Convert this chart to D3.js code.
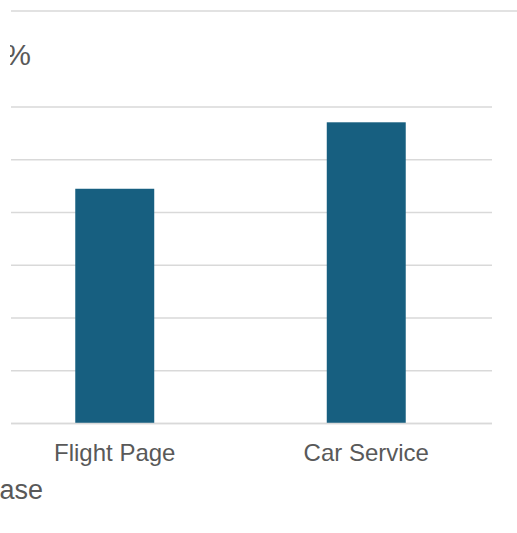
<!DOCTYPE html>
<html>
<head>
<meta charset="utf-8">
<script src="https://cdn.jsdelivr.net/npm/d3@7/dist/d3.min.js"></script>
<style>
  html, body { margin: 0; padding: 0; background: #fff; overflow: hidden; }
  text { font-family: "Liberation Sans", Arial, sans-serif; fill: #595959; }
</style>
</head>
<body>
<div id="chart"></div>
<script>
// data
var categories = ['Flight Page', 'Car Service'];
var values = [44.5, 57.1];
var yTicks = [0, 10, 20, 30, 40, 50, 60];
var yTitle = 'Conversion Rate %';
var xTitle = 'Purchase';

var width = 517, height = 533;
var margin = {top: 107, bottom: 423.5, left: -11, right: 492};

var svg = d3.select('#chart').append('svg')
    .attr('width', width)
    .attr('height', height);

// the panel is cut at x=10 on the left
svg.append('defs').append('clipPath')
    .attr('id', 'panel-clip')
  .append('rect')
    .attr('x', 10).attr('y', 0)
    .attr('width', width).attr('height', height);

var xScale = d3.scaleBand()
    .domain(categories)
    .range([margin.left, margin.right])
    .paddingInner(0.686)
    .paddingOuter(0.343);

var yScale = d3.scaleLinear()
    .domain([0, 60])
    .range([margin.bottom, margin.top]);

// top border line
svg.append('line')
    .attr('x1', 11).attr('x2', width)
    .attr('y1', 11).attr('y2', 11)
    .style('stroke', '#d9d9d9')
    .style('stroke-width', 1.5);

// gridlines
svg.append('g').selectAll('line')
    .data(yTicks)
    .enter().append('line')
    .attr('x1', 11)
    .attr('x2', margin.right)
    .attr('y1', function(d) { return yScale(d); })
    .attr('y2', function(d) { return yScale(d); })
    .style('stroke', '#d9d9d9')
    .style('stroke-width', 1.4);

// bars
svg.append('g').selectAll('rect')
    .data(values)
    .enter().append('rect')
    .attr('x', function(d, i) { return xScale(categories[i]); })
    .attr('y', function(d) { return yScale(d); })
    .attr('width', xScale.bandwidth())
    .attr('height', function(d) { return yScale(0) - yScale(d); })
    .style('fill', '#175f80');

// baseline drawn on top of bars
svg.append('line')
    .attr('x1', 11).attr('x2', margin.right)
    .attr('y1', yScale(0)).attr('y2', yScale(0))
    .style('stroke', '#d9d9d9')
    .style('stroke-width', 1.4);

// category labels
svg.append('g').selectAll('text')
    .data(categories)
    .enter().append('text')
    .attr('x', function(d) { return xScale(d) + xScale.bandwidth() / 2; })
    .attr('y', 460.5)
    .attr('text-anchor', 'middle')
    .style('font-size', '24px')
    .text(function(d) { return d; });

// titles, partly cut off at the left edge
svg.append('g')
    .attr('clip-path', 'url(#panel-clip)')
  .append('text')
    .attr('x', 31)
    .attr('y', 65)
    .attr('text-anchor', 'end')
    .style('font-size', '30px')
    .text(yTitle);

svg.append('text')
    .attr('x', 43)
    .attr('y', 499)
    .attr('text-anchor', 'end')
    .style('font-size', '27px')
    .text(xTitle);
</script>
</body>
</html>
